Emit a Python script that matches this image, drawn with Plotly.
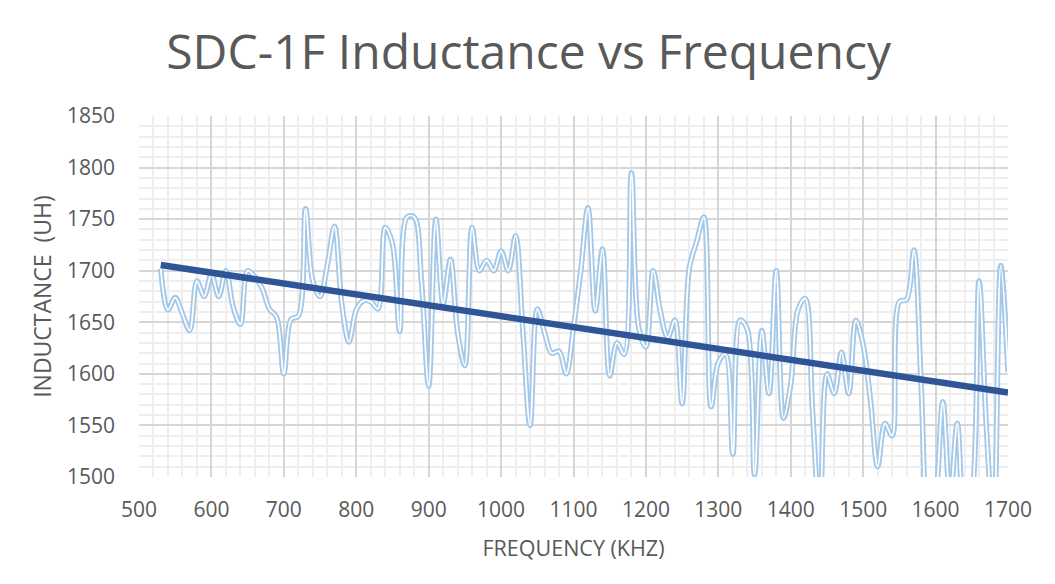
import plotly.graph_objects as go

freq_khz = [530, 540, 550, 560, 570, 580, 590, 600, 610, 620, 630, 640, 650, 660, 670, 680, 690,
            700, 710, 720, 730, 740, 750, 760, 770, 780, 790, 800, 810, 820, 830, 840, 850, 860,
            870, 880, 890, 900, 910, 920, 930, 940, 950, 960, 970, 980, 990, 1000, 1010, 1020,
            1030, 1040, 1050, 1060, 1070, 1080, 1090, 1100, 1110, 1120, 1130, 1140, 1150, 1160,
            1170, 1180, 1190, 1200, 1210, 1220, 1230, 1240, 1250, 1260, 1270, 1280, 1290, 1300,
            1310, 1320, 1330, 1340, 1350, 1360, 1370, 1380, 1390, 1400, 1410, 1420, 1430, 1440,
            1450, 1460, 1470, 1480, 1490, 1500, 1510, 1520, 1530, 1540, 1550, 1560, 1570, 1580,
            1590, 1600, 1610, 1620, 1630, 1640, 1650, 1660, 1670, 1680, 1690, 1700]

inductance_uh = [1702, 1662, 1674, 1658, 1642, 1690, 1675, 1697, 1675, 1700, 1665, 1648, 1700,
                 1694, 1683, 1663, 1655, 1600, 1653, 1656, 1760, 1690, 1675, 1705, 1743, 1668,
                 1631, 1662, 1671, 1670, 1663, 1742, 1726, 1641, 1752, 1752, 1690, 1588, 1750,
                 1668, 1711, 1640, 1608, 1742, 1700, 1710, 1700, 1719, 1700, 1734, 1642, 1550,
                 1663, 1640, 1620, 1622, 1600, 1645, 1700, 1761, 1661, 1721, 1598, 1630, 1619,
                 1795, 1645, 1626, 1700, 1660, 1635, 1652, 1571, 1703, 1728, 1752, 1568, 1611,
                 1619, 1522, 1652, 1643, 1502, 1642, 1581, 1700, 1557, 1590, 1662, 1673, 1565,
                 1460, 1600, 1581, 1621, 1581, 1652, 1628, 1575, 1510, 1552, 1540, 1670, 1672,
                 1720, 1590, 1440, 1475, 1573, 1480, 1552, 1460, 1480, 1690, 1550, 1450, 1705,
                 1602]

# Linear trendline as shown in the chart (read from its two ends)
trend_freq = [530, 1700]
trend_uh = [1705.5, 1582]

x_ticks = [500, 600, 700, 800, 900, 1000, 1100, 1200, 1300, 1400, 1500, 1600, 1700]
y_ticks = [1500, 1550, 1600, 1650, 1700, 1750, 1800, 1850]

FONT = "Open Sans"
GREY = "#595959"

fig = go.Figure()
# Compound line: outer light blue with a white core
fig.add_trace(go.Scatter(x=freq_khz, y=inductance_uh, mode="lines",
                         line=dict(color="#A4C8E8", width=5.5, shape="spline", smoothing=1.0),
                         hoverinfo="skip", showlegend=False))
fig.add_trace(go.Scatter(x=freq_khz, y=inductance_uh, mode="lines",
                         line=dict(color="#FFFFFF", width=1.8, shape="spline", smoothing=1.0),
                         showlegend=False))
fig.add_trace(go.Scatter(x=trend_freq, y=trend_uh, mode="lines",
                         line=dict(color="#2F5597", width=6.5),
                         showlegend=False))

fig.update_layout(
    width=1055, height=584,
    paper_bgcolor="white", plot_bgcolor="white",
    margin=dict(l=131, r=55, t=108, b=115, autoexpand=False),
    title=dict(text="SDC-1F Inductance vs Frequency", x=0.4935, xanchor="center",
               y=0.925, yanchor="middle",
               font=dict(family=FONT, size=48, color=GREY)),
    font=dict(family=FONT, color=GREY),
)

fig.update_xaxes(
    range=[500, 1700], tickvals=x_ticks, ticktext=[str(v) for v in x_ticks],
    showgrid=True, gridcolor="#D6D6D6", gridwidth=2,
    minor=dict(dtick=20, showgrid=True, gridcolor="#EEEEEE", gridwidth=2),
    zeroline=False, showline=False, automargin=False,
    tickfont=dict(family=FONT, size=21, color=GREY),
    ticks="", ticklabelstandoff=18,
    title=dict(text="FREQUENCY (KHZ)", font=dict(family=FONT, size=21.5, color=GREY), standoff=18),
)
fig.update_yaxes(
    range=[1500, 1850], tickvals=y_ticks, ticktext=[str(v) for v in y_ticks],
    showgrid=True, gridcolor="#D6D6D6", gridwidth=2,
    minor=dict(dtick=10, showgrid=True, gridcolor="#EEEEEE", gridwidth=2),
    zeroline=False, showline=False, automargin=False,
    tickfont=dict(family=FONT, size=21, color=GREY),
    ticks="", ticklabelstandoff=23,
    title=dict(text="INDUCTANCE  (UH)", font=dict(family=FONT, size=23, color=GREY), standoff=8),
)

fig.write_html("out.html")
